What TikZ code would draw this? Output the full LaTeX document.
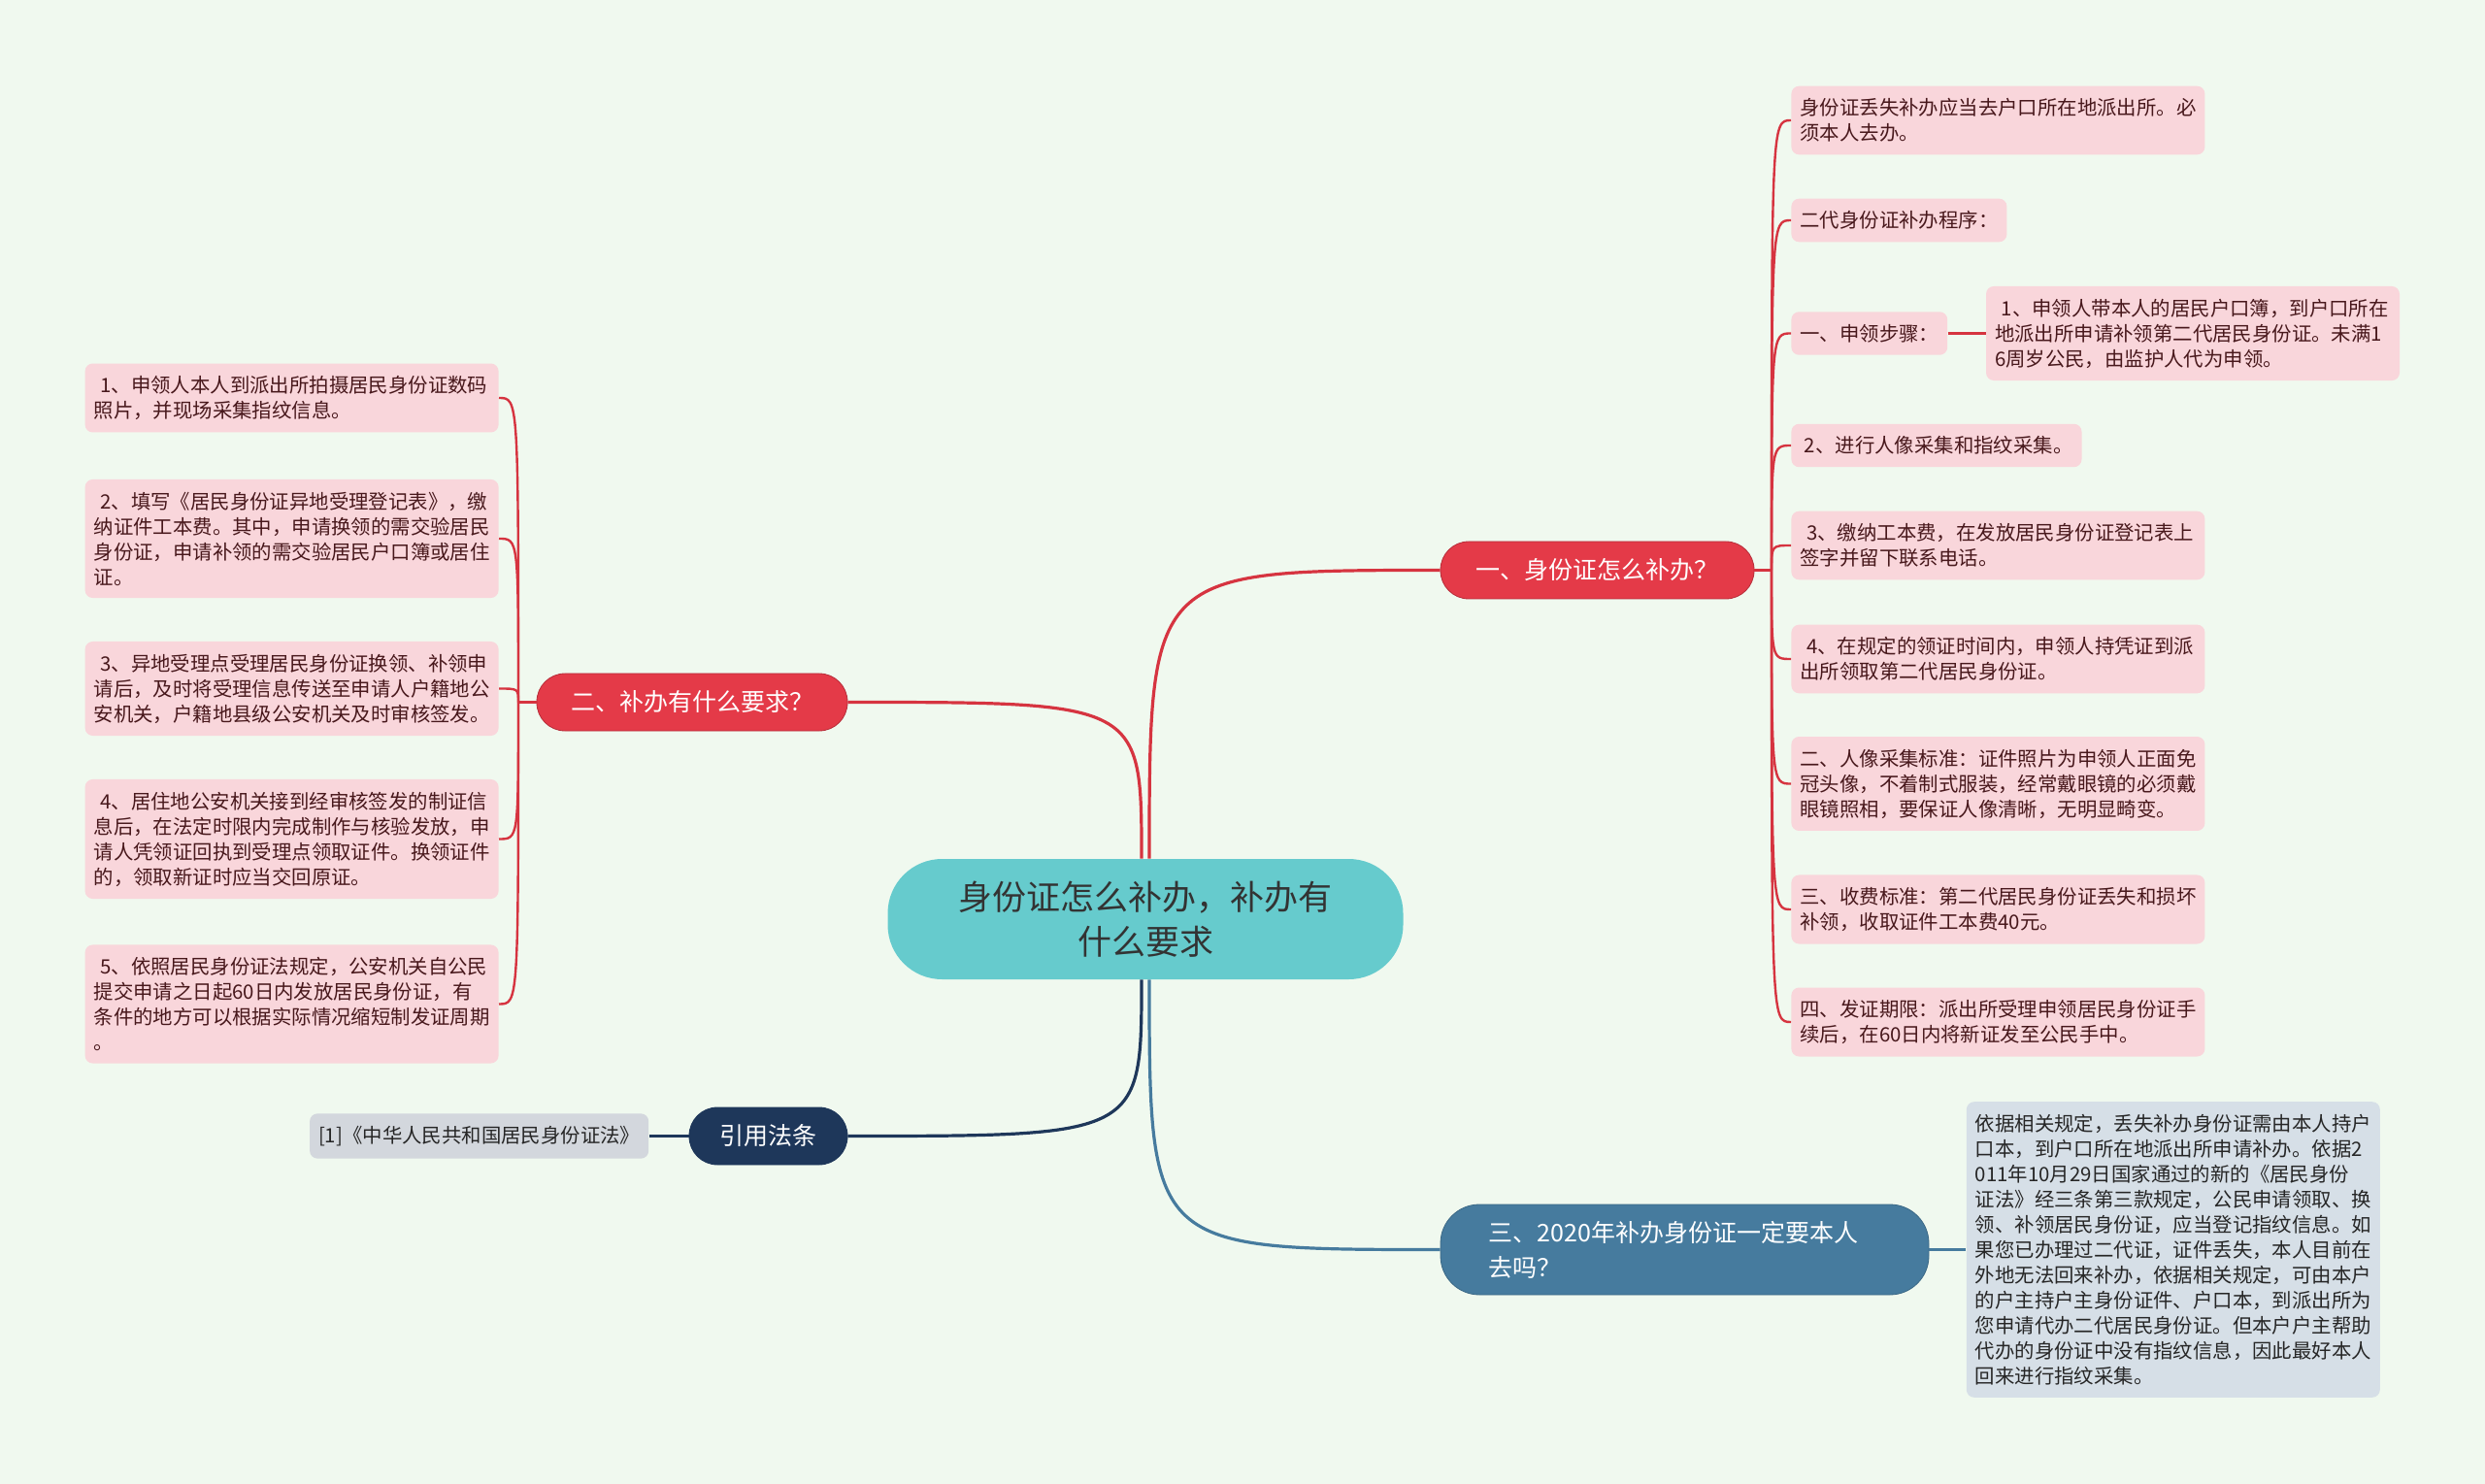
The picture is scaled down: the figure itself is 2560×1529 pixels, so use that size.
\documentclass[tikz,border=0pt]{standalone}
\usepackage{fontspec}
\setmainfont{Noto Sans CJK SC}
\usepackage{tikz}
\usetikzlibrary{
  positioning,
  calc,
}

\definecolor{bgmint}{RGB}{240,249,239}
\definecolor{rootteal}{RGB}{102,203,205}
\definecolor{topicred}{RGB}{228,58,72}
\definecolor{linered}{RGB}{214,52,64}
\definecolor{leafpink}{RGB}{249,214,219}
\definecolor{leaftext}{RGB}{72,24,28}
\definecolor{lawnavy}{RGB}{30,55,90}
\definecolor{citegray}{RGB}{211,215,221}
\definecolor{steelblue}{RGB}{70,123,158}
\definecolor{noteblue}{RGB}{214,223,231}

\newcommand{\leaffont}{\fontsize{10.2pt}{13pt}\selectfont}

\begin{document}
\begin{tikzpicture}[
  x=0.5pt, y=-0.5pt,
  root/.style={
    fill=rootteal, rounded corners=28pt, minimum width=265.5pt,
    minimum height=62pt, text width=230pt, align=center,
    font=\fontsize{17.5pt}{23pt}\selectfont, text=black!80,
  },
  topic/.style={
    fill=topicred, draw=topicred!80!black, line width=0.4pt,
    rounded corners=14.5pt, minimum height=29.5pt,
    font=\fontsize{12.5pt}{16pt}\selectfont, text=white,
  },
  leaf/.style={
    fill=leafpink, rounded corners=4pt, inner xsep=4.5pt, inner ysep=6.4pt,
    font=\leaffont, text=leaftext, align=left,
  },
  wide/.style={text width=204pt},
  redline/.style={draw=linered, line width=1.6pt},
  twig/.style={draw=linered, line width=1.2pt},
]

\path[use as bounding box, fill=bgmint] (0,0) rectangle (2560,1529);

% ── Root and main topics ────────────────────────────────────────────
\node[root] (root) at (1180,947) {身份证怎么补办，补办有\\什么要求};

\node[topic, minimum width=161.5pt] (one) at (1645.5,587.5) {一、身份证怎么补办？};
\node[topic, minimum width=160pt] (two) at (713,723.5) {二、补办有什么要求？};
\node[topic, fill=lawnavy, draw=lawnavy, minimum width=81.5pt] (law)
  at (791.5,1170.5) {引用法条};
\node[topic, fill=steelblue, draw=steelblue!85!black, rounded corners=20pt,
      minimum width=251.5pt, minimum height=46.5pt, text width=202pt, align=left,
      font=\fontsize{12.5pt}{18pt}\selectfont] (three)
  at (1735.5,1287.5) {三、2020年补办身份证一定要本人\\去吗？};

% ── Right leaves (一) ───────────────────────────────────────────────
\node[leaf, wide, anchor=west] (ra) at (1845,124)
  {身份证丢失补办应当去户口所在地派出所。必\\须本人去办。};
\node[leaf, anchor=west] (rb) at (1845,227) {二代身份证补办程序：};
\node[leaf, anchor=west] (rc) at (1845,343.5) {一、申领步骤：};
\node[leaf, wide, right=19.5pt of rc] (rc1)
  {~1、申领人带本人的居民户口簿，到户口所在\\地派出所申请补领第二代居民身份证。未满1\\6周岁公民，由监护人代为申领。};
\node[leaf, anchor=west] (rd) at (1845,459) {~2、进行人像采集和指纹采集。};
\node[leaf, wide, anchor=west] (re) at (1845,562)
  {~3、缴纳工本费，在发放居民身份证登记表上\\签字并留下联系电话。};
\node[leaf, wide, anchor=west] (rf) at (1845,679)
  {~4、在规定的领证时间内，申领人持凭证到派\\出所领取第二代居民身份证。};
\node[leaf, wide, anchor=west] (rg) at (1845,807.5)
  {二、人像采集标准：证件照片为申领人正面免\\冠头像，不着制式服装，经常戴眼镜的必须戴\\眼镜照相，要保证人像清晰，无明显畸变。};
\node[leaf, wide, anchor=west] (rh) at (1845,937)
  {三、收费标准：第二代居民身份证丢失和损坏\\补领，收取证件工本费40元。};
\node[leaf, wide, anchor=west] (ri) at (1845,1053)
  {四、发证期限：派出所受理申领居民身份证手\\续后，在60日内将新证发至公民手中。};

% ── Left leaves (二) ────────────────────────────────────────────────
\node[leaf, wide, anchor=east] (la) at (514,410)
  {~1、申领人本人到派出所拍摄居民身份证数码\\照片，并现场采集指纹信息。};
\node[leaf, wide, anchor=east] (lb) at (514,555)
  {~2、填写《居民身份证异地受理登记表》，缴\\纳证件工本费。其中，申请换领的需交验居民\\身份证，申请补领的需交验居民户口簿或居住\\证。};
\node[leaf, wide, anchor=east] (lc) at (514,709.5)
  {~3、异地受理点受理居民身份证换领、补领申\\请后，及时将受理信息传送至申请人户籍地公\\安机关，户籍地县级公安机关及时审核签发。};
\node[leaf, wide, anchor=east] (ld) at (514,864.5)
  {~4、居住地公安机关接到经审核签发的制证信\\息后，在法定时限内完成制作与核验发放，申\\请人凭领证回执到受理点领取证件。换领证件\\的，领取新证时应当交回原证。};
\node[leaf, wide, anchor=east] (le) at (514,1034.5)
  {~5、依照居民身份证法规定，公安机关自公民\\提交申请之日起60日内发放居民身份证，有\\条件的地方可以根据实际情况缩短制发证周期\\。};

% ── Law and question three ──────────────────────────────────────────
\node[leaf, fill=citegray, text=black!85, left=20.5pt of law] (cite)
  {[1]《中华人民共和国居民身份证法》};
\node[leaf, wide, fill=noteblue, text=black!85, right=19pt of three] (note)
  {依据相关规定，丢失补办身份证需由本人持户\\口本，到户口所在地派出所申请补办。依据2\\011年10月29日国家通过的新的《居民身份\\证法》经三条第三款规定，公民申请领取、换\\领、补领居民身份证，应当登记指纹信息。如\\果您已办理过二代证，证件丢失，本人目前在\\外地无法回来补办，依据相关规定，可由本户\\的户主持户主身份证件、户口本，到派出所为\\您申请代办二代居民身份证。但本户户主帮助\\代办的身份证中没有指纹信息，因此最好本人\\回来进行指纹采集。};

% ── Connections: root ───────────────────────────────────────────────
\draw[redline] ([xshift=2pt]root.north) .. controls ([xshift=2pt]root.north |- one.west) .. (one.west);
\draw[redline] ([xshift=-2pt]root.north) .. controls ([xshift=-2pt]root.north |- two.east) .. (two.east);
\draw[draw=lawnavy, line width=1.6pt] ([xshift=-2pt]root.south)
  .. controls ([xshift=-2pt]root.south |- law.east) .. (law.east);
\draw[draw=steelblue, line width=1.6pt] ([xshift=2pt]root.south)
  .. controls ([xshift=2pt]root.south |- three.west) .. (three.west);

% ── Connections: leaves ─────────────────────────────────────────────
\coordinate (rj) at (1825,587.5);
\draw[twig] (one.east) -- (rj);
\foreach \n in {ra,rb,rc,rd,re,rf,rg,rh,ri}
  \draw[twig] (rj) .. controls (rj |- \n.west) .. (\n.west);
\draw[twig] (rc.east) -- (rc1.west);

\coordinate (lj) at (534,723.5);
\draw[twig] (two.west) -- (lj);
\foreach \n in {la,lb,lc,ld,le}
  \draw[twig] (lj) .. controls (lj |- \n.east) .. (\n.east);

\draw[draw=lawnavy, line width=1.2pt] (law.west) -- (cite.east);
\draw[draw=steelblue, line width=1.2pt] (three.east) -- (note.west);

\end{tikzpicture}
\end{document}
